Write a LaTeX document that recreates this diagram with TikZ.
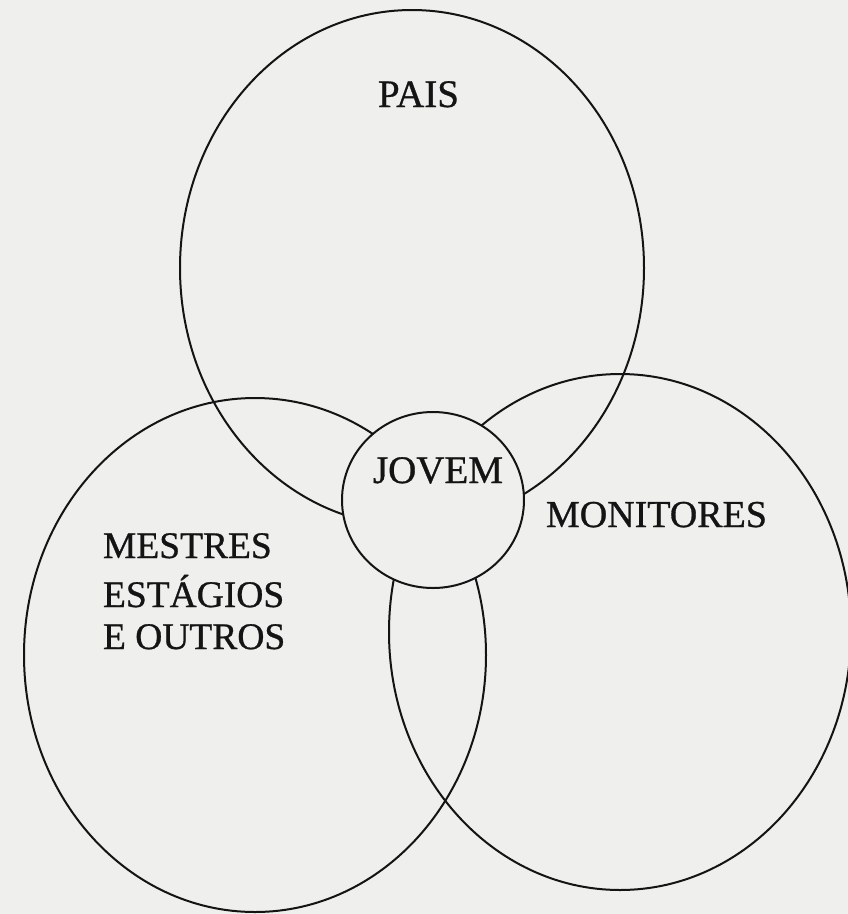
\documentclass[tikz,border=0pt]{standalone}
\usepackage{fontspec}
\setmainfont{Liberation Serif}
\newfontface\heavyserif{Liberation Serif}[FakeBold=0.8]
\usetikzlibrary{shapes.geometric}
\definecolor{paper}{RGB}{239,239,237}
\definecolor{ink}{RGB}{20,20,20}
\tikzset{
  ring/.style={ellipse, draw=ink, line width=2pt, inner sep=0pt, outer sep=0pt},
  lbl/.style={anchor=base west, inner sep=0pt, outer sep=0pt, text=ink}
}
\begin{document}
\begin{tikzpicture}[x=1pt,y=-1pt]
\fill[paper] (0,0) rectangle (848,914);
\useasboundingbox (0,0) rectangle (848,914);
\node[ring, minimum width=464pt, minimum height=516pt] (pais) at (412,268) {};
\node[ring, minimum width=462pt, minimum height=514pt] (mestres) at (255,655) {};
\node[ring, minimum width=462pt, minimum height=516pt] (monitores) at (620,632) {};
\node[ring, fill=paper, minimum width=182pt, minimum height=176pt] (jovem) at (433,500) {};
\node[lbl, font=\heavyserif\fontsize{39}{39}\selectfont] (tpais) at (378,107) {PAIS};
\node[lbl, font=\heavyserif\fontsize{39}{39}\selectfont] (tjovem) at (373,483) {JOVEM};
\node[lbl, font=\heavyserif\fontsize{38}{38}\selectfont] (tmon) at (546,527) {MONITORES};
\node[lbl, font=\heavyserif\fontsize{37.5}{37.5}\selectfont] (tm1) at (103,558) {MESTRES};
\node[lbl, font=\heavyserif\fontsize{37.5}{37.5}\selectfont] (tm2) at (103,607) {ESTÁGIOS};
\node[lbl, font=\heavyserif\fontsize{37.5}{37.5}\selectfont] (tm3) at (103,649) {E OUTROS};
\end{tikzpicture}
\end{document}
